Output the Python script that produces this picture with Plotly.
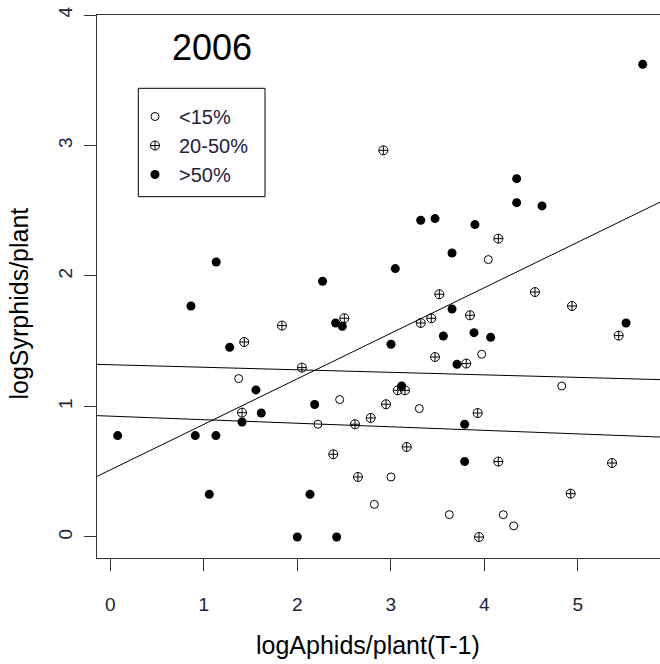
import plotly.graph_objects as go
import numpy as np

# ---------------- data ----------------
low_x = [1.373, 2.221, 2.453, 3.305, 3.002, 2.824, 3.626, 4.203, 4.314, 3.972, 4.828, 4.043]
low_y = [1.214, 0.864, 1.053, 0.984, 0.460, 0.250, 0.171, 0.171, 0.085, 1.400, 1.157, 2.126]

mid_x = [1.836, 1.433, 2.050, 1.409, 2.920, 4.150, 3.519, 4.542, 4.938, 5.437, 2.503, 3.847,
         3.320, 3.433, 3.473, 3.807, 3.074, 3.152, 2.949, 2.785, 2.617, 3.929, 2.385, 3.170,
         4.150, 5.366, 2.649, 4.924, 3.943]
mid_y = [1.620, 1.494, 1.298, 0.953, 2.963, 2.286, 1.860, 1.877, 1.770, 1.543, 1.676, 1.699,
         1.640, 1.676, 1.379, 1.329, 1.124, 1.124, 1.017, 0.912, 0.864, 0.950, 0.634, 0.690,
         0.578, 0.567, 0.460, 0.332, 0.000]

high_x = [1.133, 2.270, 5.694, 4.346, 4.346, 4.617, 3.320, 3.473, 3.900, 3.655, 3.048, 0.863,
          1.277, 1.558, 2.186, 1.615, 1.409, 0.079, 0.909, 1.130, 1.059, 2.136, 2.000, 5.516,
          2.410, 2.481, 3.655, 3.002, 3.562, 3.890, 4.068, 3.708, 3.116, 3.790, 3.790, 2.421]
high_y = [2.107, 1.960, 3.622, 2.746, 2.562, 2.537, 2.427, 2.440, 2.394, 2.176, 2.057, 1.770,
          1.454, 1.127, 1.015, 0.950, 0.881, 0.777, 0.777, 0.777, 0.327, 0.327, 0.000, 1.640,
          1.640, 1.615, 1.747, 1.477, 1.540, 1.566, 1.530, 1.323, 1.157, 0.864, 0.578, 0.000]

group_names = ["<15%", "20-50%", ">50%"]

# fitted lines (intercept, slope)
line_intercepts = [0.514, 1.320, 0.926]
line_slopes = [0.349, -0.0194, -0.0272]

x_ticks = [0, 1, 2, 3, 4, 5]
y_ticks = [0, 1, 2, 3, 4]
x_range = [-0.142, 5.879]
y_range = [-0.161, 4.0]

year_label = "2006"
x_title = "logAphids/plant(T-1)"
y_title = "logSyrphids/plant"

# ---------------- figure ----------------
FONT = "Liberation Sans, Arial, sans-serif"
L, T, PW, PH = 97, 15, 563, 543


def px(xp):
    return (xp - L) / PW


def py(yp):
    return (T + PH - yp) / PH


fig = go.Figure()

xs_line = np.array(x_range)
for b0, b1 in zip(line_intercepts, line_slopes):
    fig.add_trace(go.Scatter(x=xs_line, y=b0 + b1 * xs_line, mode="lines",
                             line=dict(color="black", width=1), showlegend=False,
                             hoverinfo="skip"))

fig.add_trace(go.Scatter(x=low_x, y=low_y, mode="markers", name=group_names[0],
                         marker=dict(symbol="circle-open", size=8, color="black",
                                     line=dict(width=1, color="black"))))
fig.add_trace(go.Scatter(x=mid_x, y=mid_y, mode="markers", name=group_names[1],
                         marker=dict(symbol="circle-cross-open", size=9, color="black",
                                     line=dict(width=1, color="black"))))
fig.add_trace(go.Scatter(x=high_x, y=high_y, mode="markers", name=group_names[2],
                         marker=dict(symbol="circle", size=9, color="black",
                                     line=dict(width=0))))

axis_common = dict(showgrid=False, zeroline=False, ticks="outside", ticklen=12,
                   tickwidth=1, tickcolor="#333", showline=True, linecolor="#333",
                   linewidth=1, tickfont=dict(family=FONT, size=19, color="#22223a"))

fig.update_xaxes(range=x_range, tickvals=x_ticks, mirror=True,
                 ticklabelstandoff=17, **axis_common)
fig.update_yaxes(range=y_range, tickvals=y_ticks, tickangle=-90,
                 ticklabelstandoff=4, **axis_common)

fig.update_layout(
    width=660, height=664,
    margin=dict(l=L, r=0, t=T, b=664 - T - PH, autoexpand=False),
    plot_bgcolor="white", paper_bgcolor="white",
    font=dict(family=FONT, color="black"),
    legend=dict(x=px(131), y=py(97), xanchor="left", yanchor="top",
                borderwidth=0, bgcolor="rgba(0,0,0,0)",
                font=dict(family=FONT, size=20, color="#22223a"),
                itemwidth=38, tracegroupgap=0),
    shapes=[dict(type="rect", xref="paper", yref="paper",
                 x0=px(138.3), x1=px(265), y0=py(196.7), y1=py(88.3),
                 line=dict(color="black", width=1), fillcolor="rgba(0,0,0,0)",
                 layer="above")],
    annotations=[
        dict(text=year_label, x=px(212), y=py(48), xref="paper",
             yref="paper", showarrow=False, font=dict(family=FONT, size=36, color="black"),
             xanchor="center", yanchor="middle"),
        dict(text=x_title, x=px(368), y=py(645), xref="paper",
             yref="paper", showarrow=False, font=dict(family=FONT, size=25, color="black"),
             xanchor="center", yanchor="middle"),
        dict(text=y_title, x=px(18), y=py(303.5), xref="paper",
             yref="paper", showarrow=False, textangle=-90,
             font=dict(family=FONT, size=25, color="black"),
             xanchor="center", yanchor="middle"),
    ],
)

fig.write_html("out.html")
